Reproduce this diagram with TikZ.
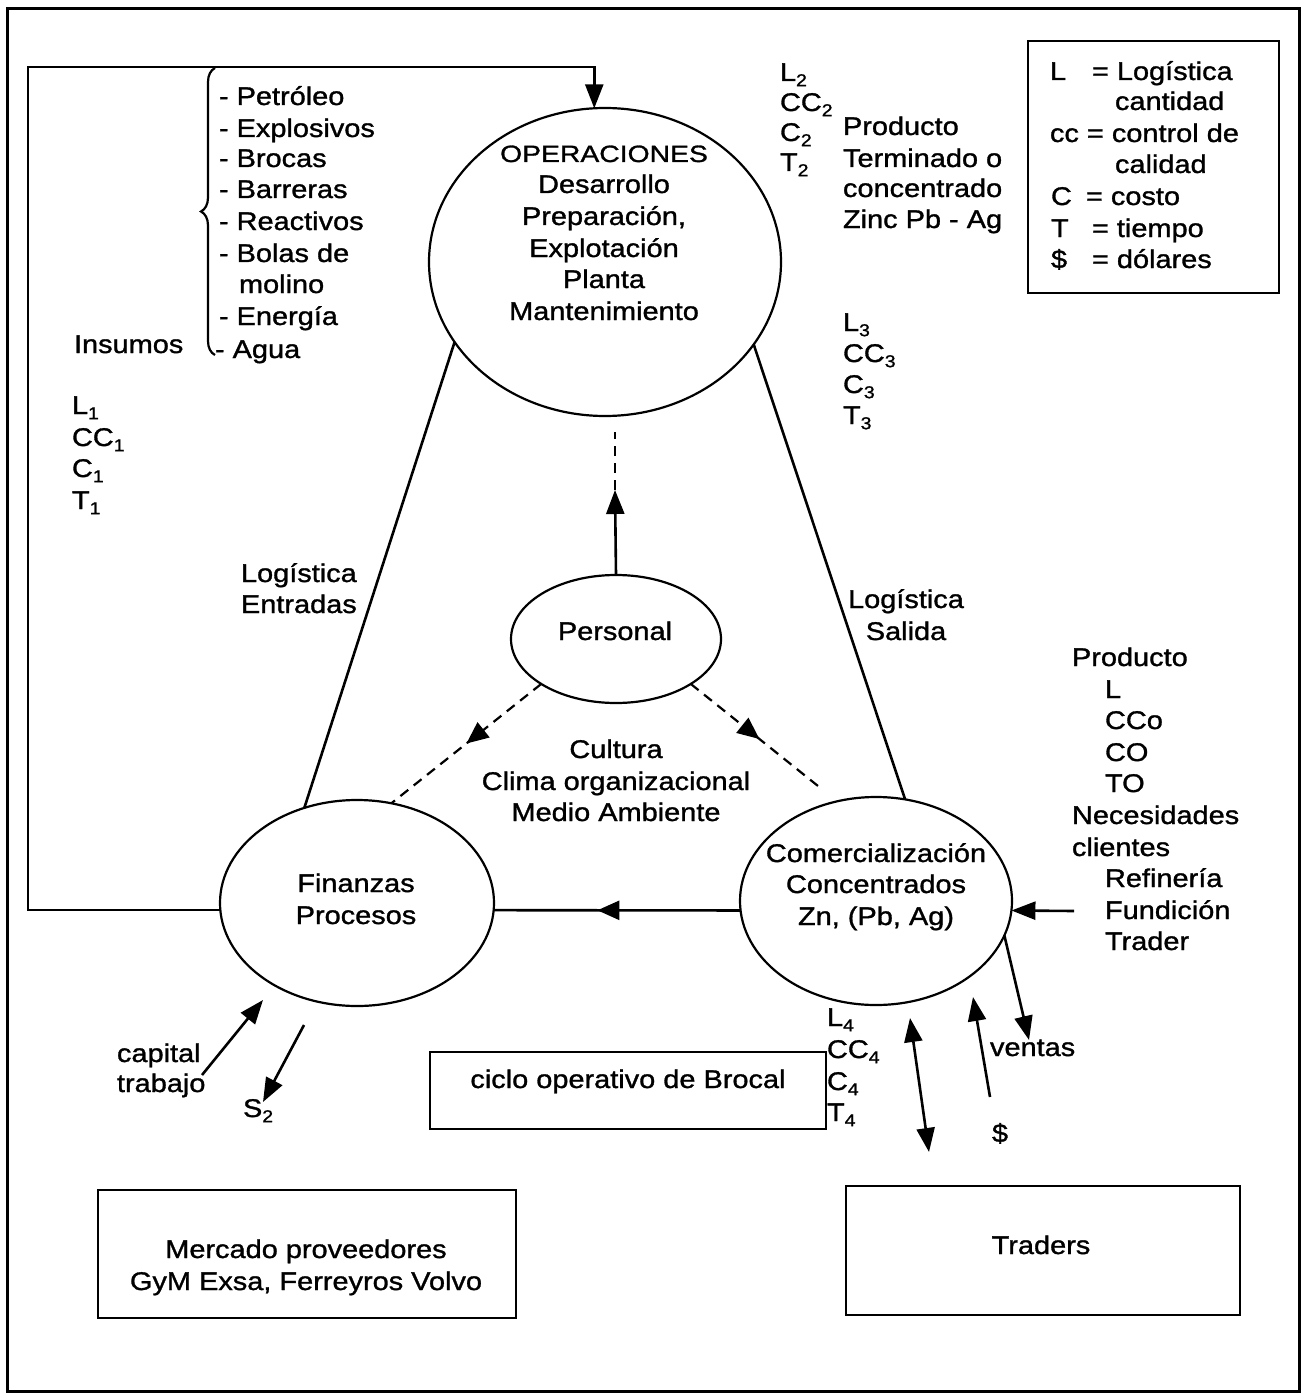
\documentclass[tikz,border=0pt]{standalone}
\usepackage{fontspec}
\setmainfont{Liberation Sans}[FakeStretch=1.13,FakeBold=1.2]
\newfontfamily\opsfont{Liberation Sans}[FakeStretch=1.2,FakeBold=1.2]
\usetikzlibrary{arrows.meta,decorations.markings,decorations.pathreplacing,shapes.geometric}
\newcommand{\mysub}[1]{\raisebox{-2.6pt}{\fontsize{8.6}{9}\selectfont #1}}
\begin{document}
\begin{tikzpicture}[x=0.5pt,y=-0.5pt,
  every node/.style={inner sep=0pt,outer sep=0pt,font=\fontsize{12.8}{15.8}\selectfont},
  lw/.style={anchor=base west},
  lc/.style={anchor=base},
  oval/.style={draw,ellipse,line width=1.1pt},
  boxnode/.style={draw,line width=1.3pt,rectangle},
  conn/.style={line width=1.3pt},
  tip/.style={conn,-{Triangle[length=12pt,width=9pt]}},
  dtip/.style={conn,{Triangle[length=12pt,width=9pt]}-{Triangle[length=12pt,width=9pt]}},
  dsh/.style={line width=1.1pt,dash pattern=on 5pt off 3.5pt},
  midarrow/.style={postaction={decorate},decoration={markings,mark=at position #1 with {\arrow{Triangle[length=11pt,width=9.5pt]}}}}
]
\useasboundingbox (0,0) rectangle (1306,1396);
\fill[white] (0,0) rectangle (1306,1396);
% outer frame
\draw[line width=1.5pt] (7,9) rectangle (1299,1391);

% ellipses
\node[oval,minimum width=176pt,minimum height=154pt] (ops) at (605,262) {};
\node[oval,minimum width=105pt,minimum height=64pt] (per) at (616,639) {};
\node[oval,minimum width=137pt,minimum height=103pt] (fin) at (357,903) {};
\node[oval,minimum width=136pt,minimum height=104pt] (com) at (876,901) {};

% boxes
\node[boxnode,minimum width=125.5pt,minimum height=126pt] (legend) at (1153.5,167) {};
\node[boxnode,minimum width=198pt,minimum height=38.5pt] (ciclo) at (628,1090.5) {};
\node[boxnode,minimum width=209pt,minimum height=64pt] (merc) at (307,1254) {};
\node[boxnode,minimum width=197pt,minimum height=64.5pt] (trad) at (1043,1250.5) {};

% coordinates
\coordinate (loopTL) at (28,67);
\coordinate (perUp) at (615,490);
\coordinate (opsGap) at (615,432);
\coordinate (comDash) at (823,790);
\coordinate (inR) at (1074,911);
\coordinate (ventTip) at (1029,1040);
\coordinate (dolStart) at (990,1097);
\coordinate (dolTip) at (973,997);
\coordinate (dblTop) at (910,1018);
\coordinate (dblBot) at (929,1152);
\coordinate (capStart) at (202,1075);
\coordinate (capTip) at (263,1000);
\coordinate (sStart) at (304,1025);
\coordinate (sTip) at (263,1102);

% connectors
\draw[conn] (fin.119) -- (ops.208.5);
\draw[conn] (ops.331) -- (com.74);
\draw[conn,midarrow=0.58] (com.184) -- (fin.357);
\draw[tip] (fin.183) -| (loopTL) -| (ops.94);
\draw[tip] (per.north) -- (perUp);
\draw[dsh] (perUp) -- (opsGap);
\draw[dsh,midarrow=0.5] (per.211) -- (fin.71);
\draw[dsh,midarrow=0.52] (per.329) -- (comDash);
\draw[tip] (inR) -- (com.356);
\draw[tip] (com.345) -- (ventTip);
\draw[tip] (dolStart) -- (dolTip);
\draw[dtip] (dblTop) -- (dblBot);
\draw[tip] (capStart) -- (capTip);
\draw[tip] (sStart) -- (sTip);

% brace
\draw[line width=1.1pt,decorate,decoration={brace,amplitude=7pt}] (215,355) -- (215,68);

% insumos list
\node[lw] (i1) at (219,105) {- Petróleo};
\node[lw] (i2) at (219,137) {- Explosivos};
\node[lw] (i3) at (219,167) {- Brocas};
\node[lw] (i4) at (219,198) {- Barreras};
\node[lw] (i5) at (219,230) {- Reactivos};
\node[lw] (i6) at (219,262) {- Bolas de};
\node[lw] (i7) at (239,293) {molino};
\node[lw] (i8) at (219,325) {- Energía};
\node[lw] (i9) at (215,358) {- Agua};
\node[lw] (insumos) at (74,353) {Insumos};

% L1 block
\node[lw] (l1a) at (72,414) {L\mysub{1}};
\node[lw] (l1b) at (72,446) {CC\mysub{1}};
\node[lw] (l1c) at (72,477) {C\mysub{1}};
\node[lw] (l1d) at (72,509) {T\mysub{1}};

% L2 block
\node[lw] (l2a) at (780,81) {L\mysub{2}};
\node[lw] (l2b) at (780,111) {CC\mysub{2}};
\node[lw] (l2c) at (780,141) {C\mysub{2}};
\node[lw] (l2d) at (780,171) {T\mysub{2}};

% product
\node[lw] (p1) at (843,135) {Producto};
\node[lw] (p2) at (843,167) {Terminado o};
\node[lw] (p3) at (843,197) {concentrado};
\node[lw] (p4) at (843,228) {Zinc Pb - Ag};

% legend text
\node[lw] (lgL) at (1050,80) {L};
\node[lw] (lgL2) at (1092,80) {= Logística};
\node[lw] (lgcant) at (1115,110) {cantidad};
\node[lw] (lgcc) at (1050,142) {cc = control de};
\node[lw] (lgcal) at (1115,173) {calidad};
\node[lw] (lgC) at (1051,205) {C};
\node[lw] (lgC2) at (1086,205) {= costo};
\node[lw] (lgT) at (1051,237) {T};
\node[lw] (lgT2) at (1092,237) {= tiempo};
\node[lw] (lgD) at (1051,268) {\$};
\node[lw] (lgD2) at (1092,268) {= dólares};

% L3 block
\node[lw] (l3a) at (843,331) {L\mysub{3}};
\node[lw] (l3b) at (843,362) {CC\mysub{3}};
\node[lw] (l3c) at (843,393) {C\mysub{3}};
\node[lw] (l3d) at (843,424) {T\mysub{3}};

% operaciones text
\node[lc,font=\opsfont\fontsize{11.8}{14}\selectfont] (o1) at (604,162) {OPERACIONES};
\node[lc] (o2) at (604,193) {Desarrollo};
\node[lc] (o3) at (604,225) {Preparación,};
\node[lc] (o4) at (604,257) {Explotación};
\node[lc] (o5) at (604,288) {Planta};
\node[lc] (o6) at (604,320) {Mantenimiento};

% logistica labels
\node[lw] (le1) at (241,582) {Logística};
\node[lw] (le2) at (241,613) {Entradas};
\node[lc] (ls1) at (906,608) {Logística};
\node[lc] (ls2) at (906,640) {Salida};

% personal & cultura
\node[lc] (pt) at (615,640) {Personal};
\node[lc] (c1) at (616,758) {Cultura};
\node[lc] (c2) at (616,790) {Clima organizacional};
\node[lc] (c3) at (616,821) {Medio Ambiente};

% finanzas & comercializacion
\node[lc] (f1) at (356,892) {Finanzas};
\node[lc] (f2) at (356,924) {Procesos};
\node[lc] (cm1) at (876,862) {Comercialización};
\node[lc] (cm2) at (876,893) {Concentrados};
\node[lc] (cm3) at (876,925) {Zn, (Pb, Ag)};

% right block
\node[lw] (r1) at (1072,666) {Producto};
\node[lw] (r2) at (1105,698) {L};
\node[lw] (r3) at (1105,729) {CCo};
\node[lw] (r4) at (1105,761) {CO};
\node[lw] (r5) at (1105,792) {TO};
\node[lw] (r6) at (1072,824) {Necesidades};
\node[lw] (r7) at (1072,856) {clientes};
\node[lw] (r8) at (1105,887) {Refinería};
\node[lw] (r9) at (1105,919) {Fundición};
\node[lw] (r10) at (1105,950) {Trader};

% L4 block
\node[lw] (l4a) at (827,1026) {L\mysub{4}};
\node[lw] (l4b) at (827,1058) {CC\mysub{4}};
\node[lw] (l4c) at (827,1090) {C\mysub{4}};
\node[lw] (l4d) at (827,1121) {T\mysub{4}};

% small labels
\node[lw] (ventas) at (990,1056) {ventas};
\node[lc] (dol) at (1000,1142) {\$};
\node[lw] (cap1) at (117,1062) {capital};
\node[lw] (cap2) at (117,1092) {trabajo};
\node[lw] (s2) at (243,1117) {S\mysub{2}};

% box texts
\node[lc] (ciclotxt) at (628,1088) {ciclo operativo de Brocal};
\node[lc] (m1) at (306,1258) {Mercado proveedores};
\node[lc] (m2) at (306,1290) {GyM Exsa, Ferreyros Volvo};
\node[lc] (tr) at (1041,1254) {Traders};
\end{tikzpicture}
\end{document}
